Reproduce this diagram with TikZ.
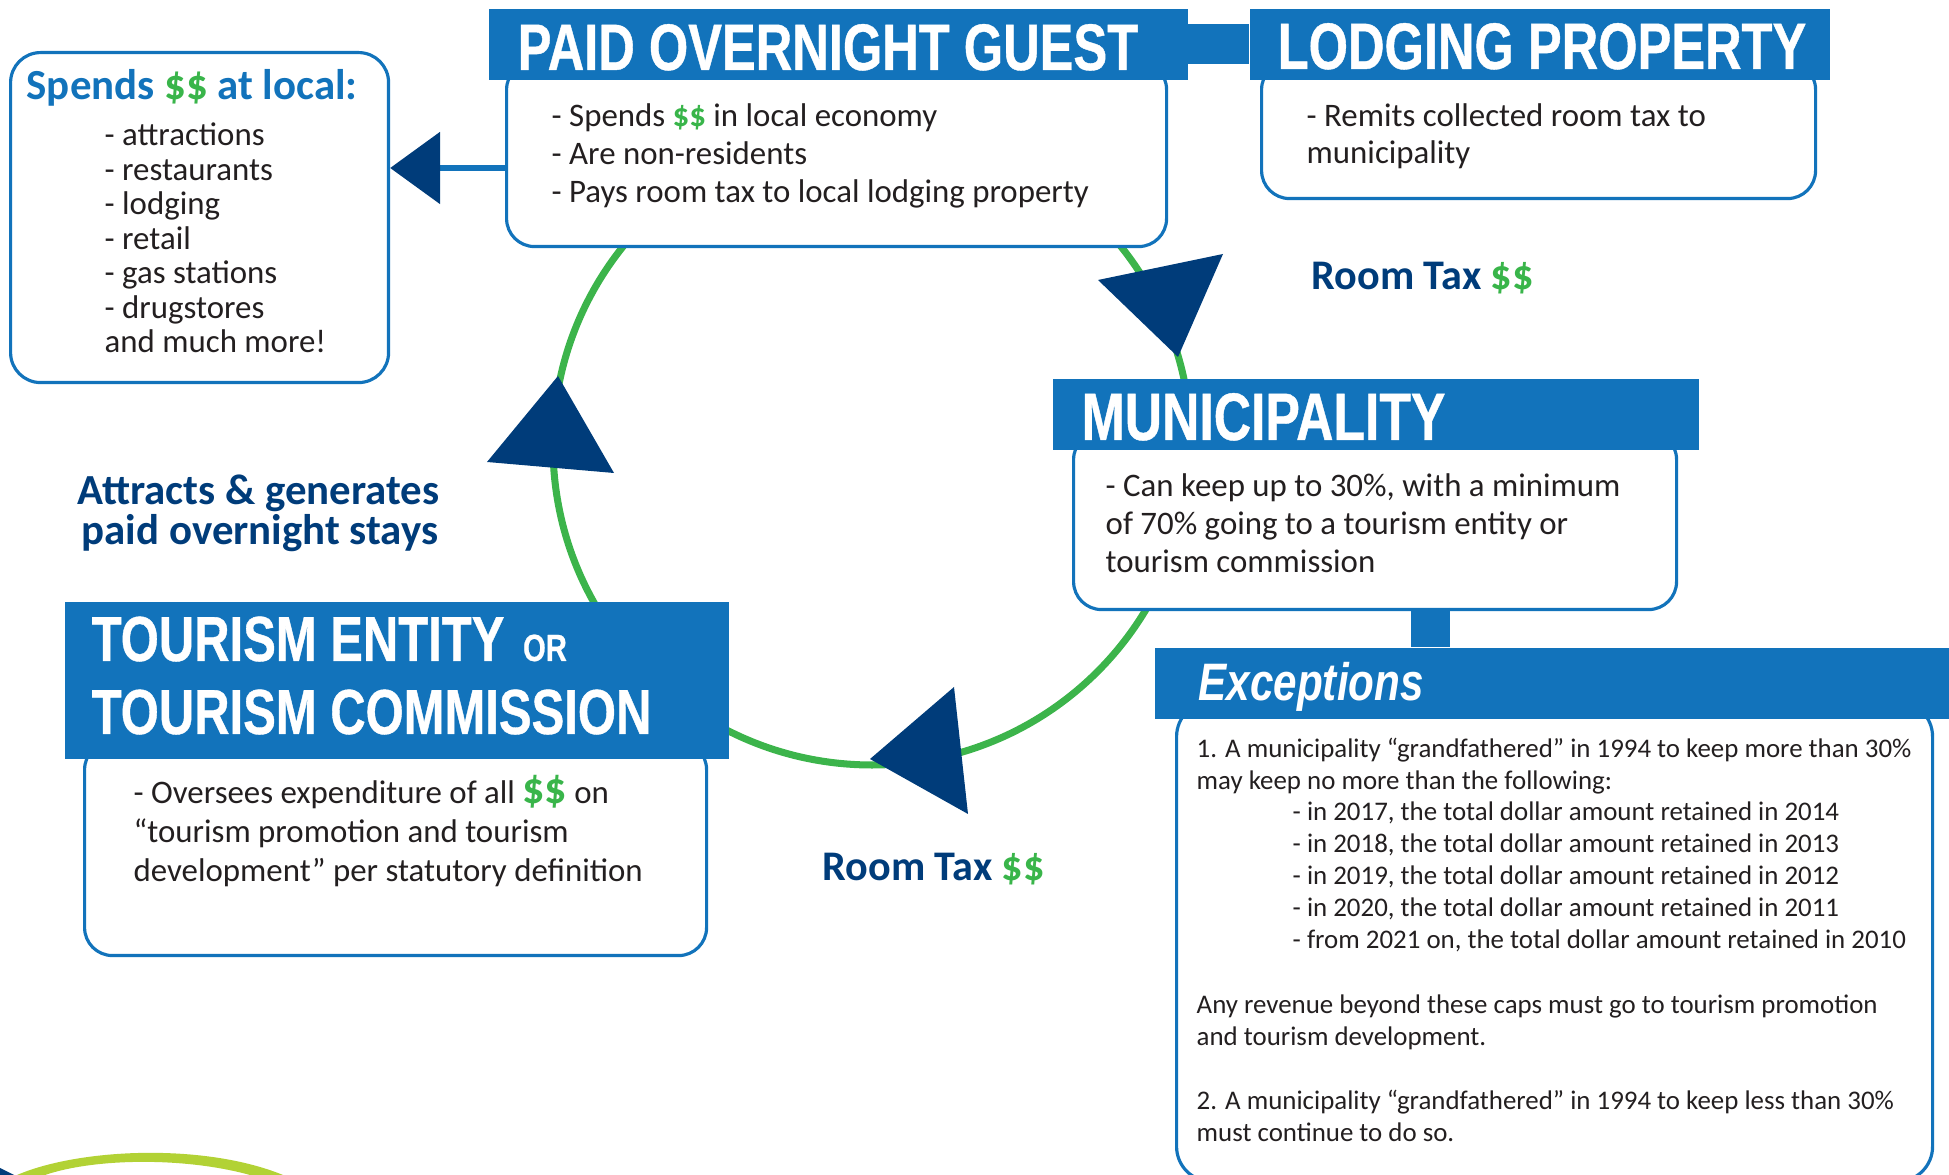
\documentclass[tikz,border=0pt]{standalone}
\usepackage{fontspec}
\setmainfont{Carlito}
\newfontfamily\headfont[FakeStretch=0.77, FakeBold=0.6]{Liberation Sans}
\newfontfamily\excfont[FakeStretch=0.8]{Liberation Sans}
\usetikzlibrary{arrows.meta}

\definecolor{headblue}{RGB}{18,115,187}
\definecolor{navy}{RGB}{0,60,122}
\definecolor{ringgreen}{RGB}{60,180,75}
\definecolor{money}{RGB}{57,181,74}
\definecolor{ink}{RGB}{35,31,32}
\definecolor{lime}{RGB}{178,210,53}

\newcommand{\dollars}{\textcolor{money}{\bfseries\$\$}}
\newcommand{\bigdollars}{\textcolor{money}{\bfseries\fontsize{12.5}{12}\selectfont\$\$}}

\tikzset{
  panel/.style={draw=headblue, line width=0.9pt, fill=white, rounded corners=0.28cm,
    inner sep=0pt, anchor=north west},
  banner/.style={fill=headblue, inner sep=0pt, anchor=north west},
  bannertext/.style={text=white, inner sep=0pt, anchor=base west,
    font=\headfont\bfseries\fontsize{18.7}{20}\selectfont},
  bodytext/.style={text=ink, inner sep=0pt, anchor=base west, font=\fontsize{9.35}{11}\selectfont},
  finetext/.style={text=ink, inner sep=0pt, anchor=base west, font=\fontsize{7.65}{9}\selectfont},
  flowlabel/.style={text=navy, inner sep=0pt, anchor=base west, font=\bfseries\fontsize{12}{13}\selectfont},
  moneyring/.style={circle, draw=ringgreen, line width=2pt, minimum size=6.38cm, inner sep=0pt},
  joint/.style={draw=headblue},
  link/.style={draw=headblue, line width=0.06cm, -{Triangle[length=0.5cm, width=0.71cm, color=navy]}},
  tipfill/.style={fill=navy},
}

\begin{document}
\begin{tikzpicture}[x=0.1mm, y=-0.1mm]
  \useasboundingbox (0,0) rectangle (1949,1175);
  \clip (0,0) rectangle (1949,1175);

  % green cycle behind the boxes
  \node[moneyring] (ring) at (872,446) {};

  % boxes
  \node[panel, rounded corners=0.3cm, minimum width=3.78cm, minimum height=3.30cm] (spends) at (9,51) {};
  \node[panel, minimum width=6.60cm, minimum height=1.85cm] (guestbox) at (505,60) {};
  \node[panel, minimum width=5.54cm, minimum height=1.37cm] (lodgingbox) at (1260,60) {};
  \node[panel, minimum width=6.03cm, minimum height=1.78cm] (munibox) at (1072,430) {};
  \node[panel, rounded corners=0.35cm, minimum width=7.56cm, minimum height=4.80cm] (excbox) at (1175,700) {};
  \node[panel, minimum width=6.22cm, minimum height=2.14cm] (tourismbox) at (83,740) {};

  % blue title bars
  \node[banner, minimum width=6.99cm, minimum height=0.71cm] (guesthead) at (488,8) {};
  \node[banner, minimum width=5.80cm, minimum height=0.71cm] (lodginghead) at (1249,8) {};
  \node[banner, minimum width=6.46cm, minimum height=0.71cm] (munihead) at (1052,378) {};
  \node[banner, minimum width=8.00cm, minimum height=0.71cm] (exchead) at (1154,647) {};
  \node[banner, minimum width=6.64cm, minimum height=1.57cm] (tourismhead) at (64,601) {};

  % bars joining the boxes
  \draw[joint, line width=0.4cm] (guesthead) -- (lodginghead);
  \coordinate (drop) at (1430,608);
  \draw[joint, line width=0.39cm] (drop) -- (drop |- exchead.north);

  % titles
  \node[bannertext] (guesttitle) at (517,70) {PAID OVERNIGHT GUEST};
  \node[bannertext] (lodgingtitle) at (1277,69) {LODGING PROPERTY};
  \node[bannertext, font=\headfont\bfseries\fontsize{19.1}{20}\selectfont] (munititle) at (1081,440) {MUNICIPALITY};
  \node[bannertext, font=\headfont\bfseries\fontsize{18.1}{19}\selectfont] (tourismtitle) at (91,661)
    {TOURISM ENTITY\hspace{0.05cm} {\fontsize{10.8}{11}\selectfont OR}};
  \node[bannertext, font=\headfont\bfseries\fontsize{18.1}{19}\selectfont] (tourismtitle2) at (91,734)
    {TOURISM COMMISSION};
  \node[bannertext, font=\excfont\bfseries\itshape\fontsize{15}{16}\selectfont] (exctitle) at (1198,701) {Exceptions};

  % spending list
  \node[flowlabel, text=headblue, font=\bfseries\fontsize{12.2}{13}\selectfont] (spendstitle) at (26,100)
    {Spends \dollars\ at local:};
  \foreach \item [count=\i from 0] in {- attractions, - restaurants, - lodging, - retail,
      - gas stations, - drugstores, and much more!}
    \node[bodytext] (spends\i) at (104, {146+34.5*\i}) {\item};

  % box texts
  \foreach \item [count=\i from 0] in {- Spends \dollars\ in local economy, - Are non-residents,
      - Pays room tax to local lodging property}
    \node[bodytext] (guest\i) at (551, {127+38*\i}) {\item};
  \foreach \item [count=\i from 0] in {- Remits collected room tax to, municipality}
    \node[bodytext] (lodging\i) at (1306, {127+37*\i}) {\item};
  \foreach \item [count=\i from 0] in {{- Can keep up to 30\%, with a minimum},
      of 70\% going to a tourism entity or, tourism commission}
    \node[bodytext] (muni\i) at (1105, {497+38*\i}) {\item};
  \foreach \item [count=\i from 0] in {- Oversees expenditure of all \bigdollars\ on,
      “tourism promotion and tourism, development” per statutory definition}
    \node[bodytext] (tourism\i) at (133, {804+39*\i}) {\item};

  % exceptions
  \node[finetext] (exc0) at (1196,758) {1. A municipality “grandfathered” in 1994 to keep more than 30\%};
  \node[finetext] (exc1) at (1196,790) {may keep no more than the following:};
  \foreach \yr/\kept [count=\i from 0] in {2017/2014, 2018/2013, 2019/2012, 2020/2011}
    \node[finetext] (cap\i) at (1292, {821+32*\i}) {- in \yr, the total dollar amount retained in \kept};
  \node[finetext] (cap4) at (1292,949) {- from 2021 on, the total dollar amount retained in 2010};
  \node[finetext] (exc2) at (1196,1014) {Any revenue beyond these caps must go to tourism promotion};
  \node[finetext] (exc3) at (1196,1046) {and tourism development.};
  \node[finetext] (exc4) at (1196,1110) {2. A municipality “grandfathered” in 1994 to keep less than 30\%};
  \node[finetext] (exc5) at (1196,1142) {must continue to do so.};

  % flow labels
  \node[flowlabel] (taxtop) at (1311,290) {Room Tax \dollars};
  \node[flowlabel] (taxbottom) at (822,881) {Room Tax \dollars};
  \node[flowlabel, font=\bfseries\fontsize{12.2}{13}\selectfont] (attracts) at (77,505) {Attracts \& generates};
  \node[flowlabel, font=\bfseries\fontsize{12.2}{13}\selectfont] (stays) at (81,545) {paid overnight stays};

  % arrow heads on the cycle
  \fill[tipfill] (1098,280) -- (1223,254) -- (1178,357) -- cycle;
  \fill[tipfill] (558,376) -- (487,462) -- (614,473) -- cycle;
  \fill[tipfill] (870,759) -- (954,687) -- (968,814) -- cycle;

  % guest spending goes out to the local economy
  \coordinate (guestport) at (505,168);
  \draw[link] (guestport) -- (guestport -| spends.east);

  % corner of the logo
  \fill[lime] (17,1175) .. controls (80,1148) and (205,1143) .. (283,1175)
    -- (250,1175) .. controls (185,1157) and (95,1158) .. (45,1175) -- cycle;
  \fill[navy] (0,1168) -- (14,1175) -- (0,1175) -- cycle;
\end{tikzpicture}
\end{document}
